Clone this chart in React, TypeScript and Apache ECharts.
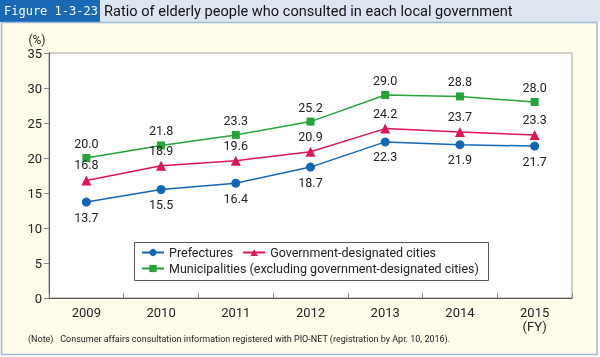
import React, { useEffect, useRef } from "react";
import * as echarts from "echarts";

const years = ["2009", "2010", "2011", "2012", "2013", "2014", "2015"];
const yearLabels = ["2009", "2010", "2011", "2012", "2013", "2014", "2015\n(FY)"];
const prefectures = [13.7, 15.5, 16.4, 18.7, 22.3, 21.9, 21.7];
const designatedCities = [16.8, 18.9, 19.6, 20.9, 24.2, 23.7, 23.3];
const municipalities = [20.0, 21.8, 23.3, 25.2, 29.0, 28.8, 28.0];
const seriesNames = [
  "Prefectures",
  "Government-designated cities",
  "Municipalities (excluding government-designated cities)",
];
const titleLabel = "Figure 1-3-23";
const titleText = "Ratio of elderly people who consulted in each local government";
const noteText =
  "(Note)   Consumer affairs consultation information registered with PIO-NET (registration by Apr. 10, 2016).";

const BLUE = "#1266b4";
const RED = "#e0135a";
const GREEN = "#25a33a";
const FONT = "Roboto, 'Liberation Sans', sans-serif";

export default function App() {
  const ref = useRef<HTMLDivElement>(null);
  useEffect(() => {
    const chart = echarts.init(ref.current!, null, { renderer: "svg" });
    const mk = (name: string, data: number[], color: string, symbol: string, pos: string, size: number) => ({
      name,
      type: "line",
      data,
      symbol,
      symbolSize: size,
      itemStyle: { color },
      lineStyle: { color, width: 1.5 },
      label: {
        show: true,
        position: pos,
        distance: 4,
        formatter: (p: any) => Number(p.value).toFixed(1),
        fontSize: 12.5,
        color: "#222",
        fontFamily: FONT,
      },
      z: 3,
    });
    const legendBase = {
      left: 141,
      padding: 0,
      itemWidth: 22,
      itemHeight: 9,
      itemGap: 9,
      z: 20,
      textStyle: { fontSize: 12.5, color: "#222", fontFamily: FONT },
    };
    chart.setOption({
      animation: false,
      backgroundColor: "transparent",
      grid: {
        left: 49,
        right: 28,
        top: 53,
        bottom: 59,
        show: true,
        backgroundColor: "#ffffff",
        borderColor: "#a0a0a0",
        borderWidth: 1,
      },
      xAxis: {
        type: "category",
        data: yearLabels,
        boundaryGap: true,
        axisLine: { show: true, lineStyle: { color: "#555", width: 1 } },
        axisTick: { show: true, inside: true, length: 5, lineStyle: { color: "#888" } },
        axisLabel: { fontSize: 13, color: "#222", fontFamily: FONT, margin: 7, lineHeight: 14 },
      },
      yAxis: {
        type: "value",
        min: 0,
        max: 35,
        interval: 5,
        axisLine: { show: true, lineStyle: { color: "#555", width: 1 } },
        axisTick: { show: true, length: 5, lineStyle: { color: "#888" } },
        splitLine: { show: false },
        axisLabel: { fontSize: 13, color: "#222", fontFamily: FONT, margin: 7 },
      },
      legend: [
        { ...legendBase, data: [seriesNames[0], seriesNames[1]], top: 246 },
        { ...legendBase, data: [seriesNames[2]], top: 262 },
      ],
      graphic: [
        { type: "rect", z: -10, shape: { x: 0, y: 0, width: 600, height: 357 }, style: { fill: "#ffffff" } },
        { type: "rect", z: -9, shape: { x: 0, y: 0, width: 600, height: 22 }, style: { fill: "#dde5f3" } },
        { type: "rect", z: -9, shape: { x: 0, y: 0, width: 100, height: 22 }, style: { fill: "#1a69b5" } },
        {
          type: "rect",
          z: -9,
          shape: { x: 1.5, y: 22.5, width: 595.5, height: 332 },
          style: { fill: "#fffdea", stroke: "#9dbad6", lineWidth: 1.5 },
        },
        {
          type: "text",
          x: 4,
          y: 11,
          style: {
            text: titleLabel,
            fill: "#ffffff",
            font: "12px 'DejaVu Sans Mono', monospace",
            verticalAlign: "middle",
          },
        },
        {
          type: "text",
          x: 104,
          y: 11,
          style: {
            text: titleText,
            fill: "#111",
            font: "14.6px " + FONT,
            verticalAlign: "middle",
          },
        },
        {
          type: "text",
          x: 37,
          y: 40,
          style: { text: "(%)", fill: "#222", font: "12px " + FONT, align: "center", verticalAlign: "middle" },
        },
        {
          type: "text",
          x: 28,
          y: 339,
          style: { text: noteText, fill: "#222", font: "9px " + FONT, verticalAlign: "middle" },
        },
        {
          type: "rect",
          z: 1,
          shape: { x: 134.5, y: 242.5, width: 354, height: 38 },
          style: { fill: "#ffffff", stroke: "#555", lineWidth: 1 },
        },
      ],
      series: [
        mk(seriesNames[0], prefectures, BLUE, "circle", "bottom", 9),
        mk(seriesNames[1], designatedCities, RED, "triangle", "top", 10),
        mk(seriesNames[2], municipalities, GREEN, "rect", "top", 8),
      ],
    });
    return () => chart.dispose();
  }, []);
  return <div ref={ref} style={{ position: "fixed", left: 0, top: 0, width: 600, height: 357 }} />;
}
